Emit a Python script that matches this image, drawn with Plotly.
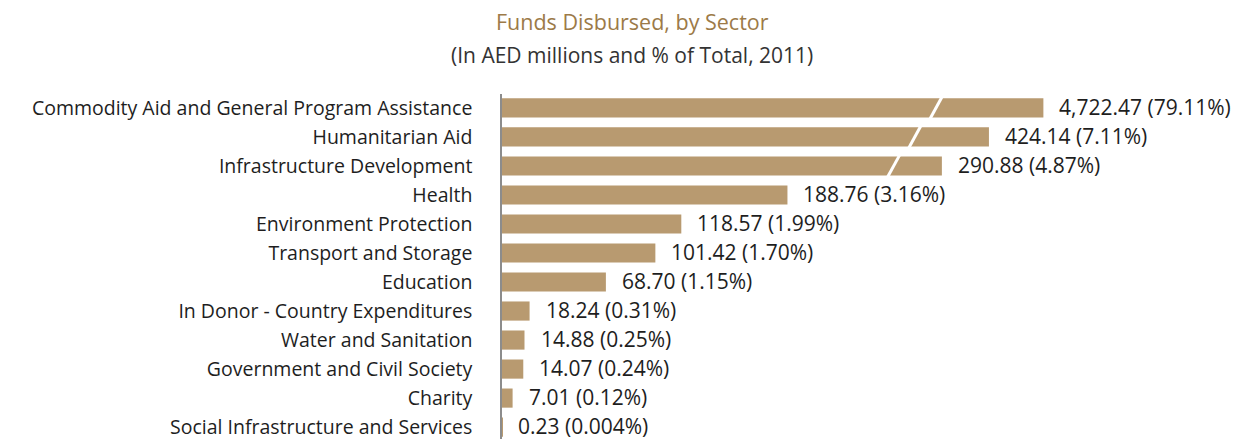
import plotly.graph_objects as go

# Data
sectors = [
    "Commodity Aid and General Program Assistance",
    "Humanitarian Aid",
    "Infrastructure Development",
    "Health",
    "Environment Protection",
    "Transport and Storage",
    "Education",
    "In Donor - Country Expenditures",
    "Water and Sanitation",
    "Government and Civil Society",
    "Charity",
    "Social Infrastructure and Services",
]
amounts = [4722.47, 424.14, 290.88, 188.76, 118.57, 101.42, 68.70, 18.24, 14.88, 14.07, 7.01, 0.23]
shares = ["79.11%", "7.11%", "4.87%", "3.16%", "1.99%", "1.70%", "1.15%", "0.31%", "0.25%", "0.24%", "0.12%", "0.004%"]
# the largest bars are drawn on a broken (truncated) scale
broken_lengths = [358, 322, 290.88]
slash_centres = [287, 273, 259]

BAR = "#b89a70"
TEXT = "#1e1e1e"
FONT = "Open Sans"

drawn = broken_lengths + amounts[len(broken_lengths):]
labels = [f"{a:,.2f} ({s})" for a, s in zip(amounts, shares)]

fig = go.Figure()
fig.add_trace(
    go.Bar(
        x=drawn,
        y=sectors,
        orientation="h",
        marker={"color": BAR, "line": {"width": 0}},
        hoverinfo="skip",
    )
)

# value labels to the right of each bar
for name, length, text in zip(sectors, drawn, labels):
    fig.add_annotation(
        x=length, y=name, text=text, showarrow=False,
        xanchor="left", xshift=14, yshift=1, font={"size": 21, "color": TEXT},
    )

# white break marks across the truncated bars
for i, c in enumerate(slash_centres):
    fig.add_shape(
        type="line", xref="x", yref="y",
        x0=c + 4.2, y0=i - 0.4, x1=c - 4.2, y1=i + 0.4,
        line={"color": "white", "width": 3},
    )

fig.add_annotation(
    text="Funds Disbursed, by Sector", xref="paper", yref="paper",
    x=0.176, y=1.209, showarrow=False, xanchor="center", yanchor="middle",
    font={"size": 21.5, "color": "#9c7a48"},
)
fig.add_annotation(
    text="(In AED millions and % of Total, 2011)", xref="paper", yref="paper",
    x=0.176, y=1.113, showarrow=False, xanchor="center", yanchor="middle",
    font={"size": 21, "color": "#333333"},
)

fig.update_layout(
    width=1243,
    height=439,
    margin={"l": 502, "r": 0, "t": 94, "b": 0},
    plot_bgcolor="white",
    paper_bgcolor="white",
    font={"family": FONT, "color": TEXT, "size": 19.5},
    bargap=0.34,
    showlegend=False,
)
fig.update_xaxes(range=[0, 490], visible=False, fixedrange=True)
fig.update_yaxes(
    type="category",
    categoryorder="array",
    categoryarray=sectors,
    range=[11.41, -0.48],
    showline=True,
    linecolor="#8c8c8c",
    linewidth=1.5,
    showgrid=False,
    ticks="",
    ticklabelstandoff=24,
    tickfont={"size": 19.5, "color": TEXT},
    fixedrange=True,
)

fig.write_html(
    "out.html",
    config={"displayModeBar": False},
    post_script="document.body.style.margin = '0';",
)
